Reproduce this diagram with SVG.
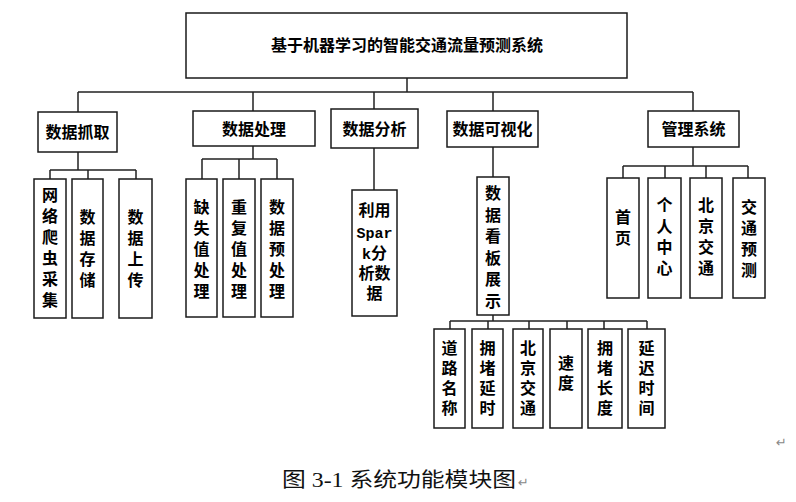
<svg xmlns="http://www.w3.org/2000/svg" width="796" height="502" viewBox="0 0 796 502">
<style>
.box{fill:#fff;stroke:#1a1a1a;stroke-width:1.5}
.t{font-family:"Noto Sans CJK SC","Noto Sans CJK TC",sans-serif;font-weight:bold;font-size:16px;fill:#000;text-anchor:middle}
.mono{font-family:"Liberation Mono",monospace;font-weight:bold;font-size:15px}
.cap{font-family:"Liberation Serif","Noto Sans CJK SC",serif;font-size:20px;fill:#111}
.ret{font-family:"DejaVu Sans",sans-serif;font-size:13px;fill:#888}
</style>
<rect width="796" height="502" fill="#fff"/>
<g id="connectors" fill="none" stroke="#222" stroke-width="1.5">
<path d="M407,78V92M78,92H693M78,92V112M253,92V111M374,92V109M493,92V111M693,92V111"/>
<path d="M78,152V170M50,170H136M50,170V179M88,170V179M136,170V179"/>
<path d="M253,146V159M202,159H277M202,159V179M239,159V179M277,159V179"/>
<path d="M374,148V190M493,147V177"/>
<path d="M693,147V166M623,166H748M623,166V178M665,166V178M706,166V178M748,166V178"/>
<path d="M493,315V321M450,321H647M450,321V329M488,321V329M529,321V329M567,321V329M604,321V329M647,321V329"/>
</g>
<g id="root"><rect class="box" x="186" y="13" width="441" height="65"/><text class="t" x="407" y="51">基于机器学习的智能交通流量预测系统</text></g>
<g id="n-zhuaqu"><rect class="box" x="38" y="112" width="79" height="40"/><text class="t" x="77.5" y="138">数据抓取</text></g>
<g id="n-chuli"><rect class="box" x="193" y="111" width="122" height="35"/><text class="t" x="254" y="134.5">数据处理</text></g>
<g id="n-fenxi"><rect class="box" x="331" y="109" width="87" height="39"/><text class="t" x="374.5" y="134.5">数据分析</text></g>
<g id="n-keshihua"><rect class="box" x="447" y="111" width="91" height="36"/><text class="t" x="492.5" y="135">数据可视化</text></g>
<g id="n-guanli"><rect class="box" x="648" y="111" width="91" height="36"/><text class="t" x="693.5" y="135">管理系统</text></g>

<g id="n-wangluo"><rect class="box" x="34" y="179" width="32" height="139"/><text class="t"><tspan x="50" y="201">网</tspan><tspan x="50" y="222">络</tspan><tspan x="50" y="243">爬</tspan><tspan x="50" y="264">虫</tspan><tspan x="50" y="285">采</tspan><tspan x="50" y="306">集</tspan></text></g>
<g id="n-cunchu"><rect class="box" x="72" y="179" width="31" height="139"/><text class="t"><tspan x="87.5" y="223">数</tspan><tspan x="87.5" y="244">据</tspan><tspan x="87.5" y="265">存</tspan><tspan x="87.5" y="286">储</tspan></text></g>
<g id="n-shangchuan"><rect class="box" x="119" y="179" width="33" height="139"/><text class="t"><tspan x="135.5" y="223">数</tspan><tspan x="135.5" y="244">据</tspan><tspan x="135.5" y="265">上</tspan><tspan x="135.5" y="286">传</tspan></text></g>

<g id="n-queshi"><rect class="box" x="186" y="179" width="31" height="138"/><text class="t"><tspan x="201.5" y="213">缺</tspan><tspan x="201.5" y="234">失</tspan><tspan x="201.5" y="255">值</tspan><tspan x="201.5" y="276">处</tspan><tspan x="201.5" y="297">理</tspan></text></g>
<g id="n-chongfu"><rect class="box" x="223" y="179" width="32" height="138"/><text class="t"><tspan x="239" y="213">重</tspan><tspan x="239" y="234">复</tspan><tspan x="239" y="255">值</tspan><tspan x="239" y="276">处</tspan><tspan x="239" y="297">理</tspan></text></g>
<g id="n-yuchuli"><rect class="box" x="261" y="179" width="32" height="138"/><text class="t"><tspan x="277" y="213">数</tspan><tspan x="277" y="234">据</tspan><tspan x="277" y="255">预</tspan><tspan x="277" y="276">处</tspan><tspan x="277" y="297">理</tspan></text></g>

<g id="n-spark"><rect class="box" x="352" y="190" width="45" height="126"/><text class="t"><tspan x="374.5" y="216">利用</tspan><tspan x="374.5" y="238" class="mono">Spar</tspan><tspan x="374.5" y="259"><tspan class="mono">k</tspan>分</tspan><tspan x="374.5" y="279">析数</tspan><tspan x="374.5" y="299">据</tspan></text></g>

<g id="n-kanban"><rect class="box" x="477" y="177" width="32" height="138"/><text class="t"><tspan x="493" y="199">数</tspan><tspan x="493" y="220.5">据</tspan><tspan x="493" y="242">看</tspan><tspan x="493" y="263.5">板</tspan><tspan x="493" y="285">展</tspan><tspan x="493" y="306.5">示</tspan></text></g>

<g id="n-shouye"><rect class="box" x="607" y="178" width="32" height="120"/><text class="t"><tspan x="623" y="223">首</tspan><tspan x="623" y="244">页</tspan></text></g>
<g id="n-geren"><rect class="box" x="648" y="178" width="33" height="120"/><text class="t"><tspan x="664.5" y="211">个</tspan><tspan x="664.5" y="232">人</tspan><tspan x="664.5" y="253">中</tspan><tspan x="664.5" y="274">心</tspan></text></g>
<g id="n-beijing1"><rect class="box" x="690" y="178" width="32" height="120"/><text class="t"><tspan x="706" y="211">北</tspan><tspan x="706" y="232">京</tspan><tspan x="706" y="253">交</tspan><tspan x="706" y="274">通</tspan></text></g>
<g id="n-yuce"><rect class="box" x="733" y="178" width="32" height="120"/><text class="t"><tspan x="749" y="213">交</tspan><tspan x="749" y="234">通</tspan><tspan x="749" y="255">预</tspan><tspan x="749" y="276">测</tspan></text></g>

<g id="n-daolu"><rect class="box" x="434" y="329" width="31" height="99"/><text class="t"><tspan x="449.5" y="354">道</tspan><tspan x="449.5" y="374">路</tspan><tspan x="449.5" y="394">名</tspan><tspan x="449.5" y="414">称</tspan></text></g>
<g id="n-yanshi"><rect class="box" x="472" y="329" width="31" height="99"/><text class="t"><tspan x="487.5" y="354">拥</tspan><tspan x="487.5" y="374">堵</tspan><tspan x="487.5" y="394">延</tspan><tspan x="487.5" y="414">时</tspan></text></g>
<g id="n-beijing2"><rect class="box" x="513" y="329" width="30" height="99"/><text class="t"><tspan x="528" y="354">北</tspan><tspan x="528" y="374">京</tspan><tspan x="528" y="394">交</tspan><tspan x="528" y="414">通</tspan></text></g>
<g id="n-sudu"><rect class="box" x="550" y="329" width="32" height="99"/><text class="t"><tspan x="566" y="369">速</tspan><tspan x="566" y="389">度</tspan></text></g>
<g id="n-changdu"><rect class="box" x="588" y="329" width="34" height="99"/><text class="t"><tspan x="605" y="354">拥</tspan><tspan x="605" y="374">堵</tspan><tspan x="605" y="394">长</tspan><tspan x="605" y="414">度</tspan></text></g>
<g id="n-yanchi"><rect class="box" x="628" y="329" width="37" height="99"/><text class="t"><tspan x="646.5" y="354">延</tspan><tspan x="646.5" y="374">迟</tspan><tspan x="646.5" y="394">时</tspan><tspan x="646.5" y="414">间</tspan></text></g>

<text class="ret" x="776" y="447">↵</text>
<text class="cap" x="282" y="487" textLength="234" lengthAdjust="spacingAndGlyphs">图 3-1 系统功能模块图</text>
<text class="ret" x="518" y="487">↵</text>
</svg>
